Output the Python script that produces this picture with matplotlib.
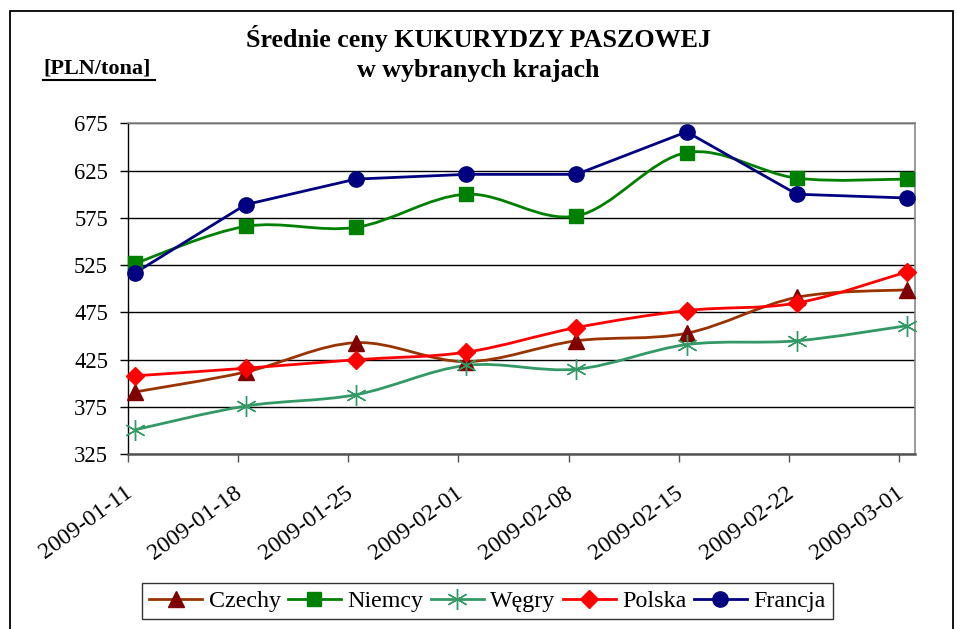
import matplotlib
matplotlib.use("Agg")
import matplotlib.pyplot as plt
from matplotlib.path import Path
from matplotlib.patches import PathPatch, Rectangle
from matplotlib.lines import Line2D
from matplotlib.transforms import ScaledTranslation
import numpy as np

plt.rcParams['font.family'] = ['Liberation Serif', 'DejaVu Serif']

dates = ["2009-01-11", "2009-01-18", "2009-01-25", "2009-02-01",
         "2009-02-08", "2009-02-15", "2009-02-22", "2009-03-01"]
czechy = [391, 412, 443, 423, 445, 453, 491, 499]
niemcy = [527, 566, 565, 600, 577, 644, 617, 616]
wegry = [351, 376, 388, 419, 415, 441, 445, 461]
polska = [408, 416, 425, 433, 459, 477, 485, 518]
francja = [517, 589, 616, 621, 621, 666, 600, 596]

yticks = [325, 375, 425, 475, 525, 575, 625, 675]

series = [
    # name, values, line color, marker, marker color, smooth, ms, mew
    ("Czechy", czechy, "#993300", "^", "#800000", True, 11.5, 1),
    ("Niemcy", niemcy, "#008000", "s", "#008000", True, 10.5, 1),
    ("Węgry", wegry, "#339966", (6, 2, 0), "#339966", True, 15, 1.0),
    ("Polska", polska, "#FF0000", "D", "#FF0000", True, 9, 1),
    ("Francja", francja, "#000080", "o", "#000080", False, 11, 1),
]

offset = 0.5 / 7.0  # data points sit half a day after the date ticks


def smooth_path(xs, ys):
    pts = list(zip(xs, ys))
    n = len(pts)
    verts = [pts[0]]
    codes = [Path.MOVETO]
    for i in range(n - 1):
        p0 = np.array(pts[i - 1] if i > 0 else pts[i])
        p1 = np.array(pts[i])
        p2 = np.array(pts[i + 1])
        p3 = np.array(pts[i + 2] if i + 2 < n else pts[i + 1])
        c1 = p1 + (p2 - p0) / 6.0
        c2 = p2 - (p3 - p1) / 6.0
        verts += [tuple(c1), tuple(c2), tuple(p2)]
        codes += [Path.CURVE4] * 3
    return Path(verts, codes)


fig = plt.figure(figsize=(9.57, 6.29), dpi=100)
ax = fig.add_axes([127.5 / 957, 1 - 454.3 / 629, (915 - 127.5) / 957, (454.3 - 123.3) / 629])

x = np.arange(len(dates)) + offset
lw = 2.0
handles = []
for name, vals, lc, mk, mc, smooth, ms, mew in series:
    if smooth:
        ax.add_patch(PathPatch(smooth_path(x, vals), fill=False, edgecolor=lc, lw=lw, zorder=3,
                               capstyle='round', joinstyle='round'))
    else:
        ax.plot(x, vals, color=lc, lw=lw, zorder=3)
    ax.plot(x, vals, linestyle='none', marker=mk, markersize=ms, color=mc,
            markeredgecolor=mc, markeredgewidth=mew, zorder=4, clip_on=False)
    handles.append(Line2D([], [], color=lc, lw=lw, marker=mk, markersize=ms,
                          markerfacecolor=mc, markeredgecolor=mc, markeredgewidth=mew))

ax.set_xlim(0, 7 + 1.0 / 7)
ax.set_ylim(325, 675)
ax.set_yticks(yticks)
ax.set_yticklabels([str(v) for v in yticks], fontsize=16.3)
ax.set_xticks(np.arange(len(dates)))
ax.set_xticklabels(dates, fontsize=17, rotation=36, ha='right', va='top', rotation_mode='anchor')
ax.tick_params(axis='y', length=6, width=1, pad=8, direction='out', color='black')
ax.tick_params(axis='x', length=6, width=1, pad=14, direction='out', color='#555555')
shift = ScaledTranslation(-4 / 100, 0, fig.dpi_scale_trans)
for lab in ax.get_xticklabels():
    lab.set_transform(lab.get_transform() + shift)
ax.grid(axis='y', color='black', lw=1.0, zorder=1)
ax.set_axisbelow(True)
for s in ['top', 'right']:
    ax.spines[s].set_color('#888888')
    ax.spines[s].set_linewidth(1.2)
ax.spines['left'].set_color('black')
ax.spines['left'].set_linewidth(1.0)
ax.spines['bottom'].set_color('#555555')
ax.spines['bottom'].set_linewidth(1.8)

fig.text(0.5, 1 - 38 / 629, "Średnie ceny KUKURYDZY PASZOWEJ", ha='center', va='center',
         fontsize=18.7, fontweight='bold')
fig.text(0.5, 1 - 70 / 629, "w wybranych krajach", ha='center', va='center',
         fontsize=18.7, fontweight='bold')
fig.text(43 / 957, 1 - 68 / 629, "[PLN/tona]", ha='left', va='center',
         fontsize=16, fontweight='bold')
fig.add_artist(Line2D([43 / 957, 155 / 957], [1 - 80 / 629, 1 - 80 / 629], color='black', lw=1.5,
                      transform=fig.transFigure))

leg = fig.legend(handles, [s[0] for s in series], loc='center', bbox_to_anchor=(487.5 / 957, 1 - 601 / 629),
                 ncol=5, fontsize=17.3, frameon=True, fancybox=False, edgecolor='black',
                 handlelength=2.2, handletextpad=0.28, columnspacing=0.3, borderpad=0.3)
leg.get_frame().set_linewidth(1.0)

# outer chart frame
fig.add_artist(Rectangle((10 / 957, -0.01), (953 - 10) / 957, (1 - 11 / 629) + 0.01, fill=False,
                         edgecolor='black', lw=1.3, transform=fig.transFigure))

fig.savefig("out.png", dpi=100, facecolor='white')
